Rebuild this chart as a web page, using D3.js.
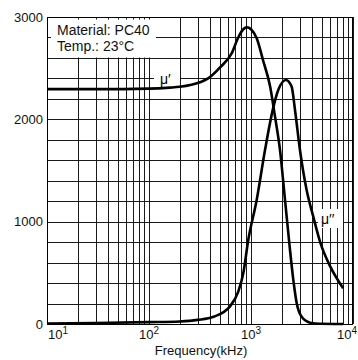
<!DOCTYPE html>
<html><head><meta charset="utf-8">
<script src="https://cdn.jsdelivr.net/npm/d3@7"></script>
<style>
html,body{margin:0;padding:0;background:#fff;}
svg{display:block;font-family:"Liberation Sans",Arial,sans-serif;}
</style></head>
<body><svg id="c" width="358" height="360"></svg>
<script>
// Data (frequency in kHz)
const muRealFreq = [10, 30, 100, 160, 200, 316, 380, 500, 650, 750, 840, 910, 1000, 1140, 1310, 1540, 1720, 1925, 2155, 2385, 2600, 2810, 3140, 3790, 4700, 8000];
const muRealVals = [2295, 2295, 2300, 2310, 2318, 2362, 2400, 2510, 2650, 2800, 2880, 2900, 2880, 2790, 2580, 2320, 2026, 1700, 1212, 770, 430, 200, 70, 13, 2, 0];
const muImagFreq = [10, 30, 100, 200, 300, 430, 620, 750, 840, 940, 1137, 1372, 1640, 1850, 2200, 2500, 2700, 3020, 3510, 4080, 4800, 5960, 8000];
const muImagVals = [5, 10, 18, 25, 40, 71, 170, 316, 495, 821, 1212, 1700, 2100, 2287, 2384, 2320, 2091, 1700, 1309, 1049, 790, 565, 349];
const yTicks = [0, 1000, 2000, 3000];
const yGrid = d3.range(0, 3001, 200);
const xDecades = [10, 100, 1000, 10000];
const xDecadeExp = ["1", "2", "3", "4"];
const infoLines = ["Material: PC40", "Temp.: 23°C"];
const seriesLabels = ["μ′", "μ′′"];

const svg = d3.select("#c");
const L = 47, R = 353, T = 17, B = 324;
const x = d3.scaleLog().domain([10, 10000]).range([L, R]);
const y = d3.scaleLinear().domain([0, 3000]).range([B, T]);
const px = v => Math.round(v) + 0.5;

// vertical gridlines
const xGrid = [];
[10, 100, 1000].forEach(d => { for (let k = 1; k <= 10; k++) xGrid.push(d * k); });
const g = svg.append("g");
g.selectAll("line.v").data(xGrid).enter().append("line")
  .attr("x1", d => px(x(d))).attr("x2", d => px(x(d)))
  .attr("y1", T).attr("y2", B)
  .attr("stroke", "#1a1a1a").attr("stroke-width", 1);
g.selectAll("line.h").data(yGrid).enter().append("line")
  .attr("x1", L).attr("x2", R)
  .attr("y1", d => px(y(d))).attr("y2", d => px(y(d)))
  .attr("stroke", "#1a1a1a").attr("stroke-width", 1);

// info box (white background)
svg.append("rect").attr("x", 51).attr("y", 19.5).attr("width", 105).attr("height", 38).attr("fill", "#fff");
svg.selectAll("text.info").data(infoLines).enter().append("text")
  .attr("x", 57).attr("y", (d, i) => 35 + i * 15.7)
  .attr("font-size", 14).attr("fill", "#111").text(d => d);

// curves
const line = d3.line().x(d => x(d[0])).y(d => y(d[1])).curve(d3.curveMonotoneX);
const realPts = muRealFreq.map((f, i) => [f, muRealVals[i]]);
const imagPts = muImagFreq.map((f, i) => [f, muImagVals[i]]);

// label backgrounds
svg.append("rect").attr("x", 154).attr("y", 70).attr("width", 26).attr("height", 17).attr("fill", "#fff");
svg.append("rect").attr("x", 318).attr("y", 209).attr("width", 25).attr("height", 19).attr("fill", "#fff");

[realPts, imagPts].forEach(pts => {
  svg.append("path").attr("d", line(pts)).attr("fill", "none")
    .attr("stroke", "#000").attr("stroke-width", 2.6).attr("stroke-linejoin", "round");
});

svg.append("text").attr("x", 160).attr("y", 84).attr("font-size", 14).text(seriesLabels[0]);
svg.append("text").attr("x", 321).attr("y", 224).attr("font-size", 14).text(seriesLabels[1]);

// frame
svg.append("rect").attr("x", L + 0.5).attr("y", T + 0.5).attr("width", R - L - 1).attr("height", B - T)
  .attr("fill", "none").attr("stroke", "#000").attr("stroke-width", 1);

// y tick labels
svg.selectAll("text.yt").data(yTicks).enter().append("text")
  .attr("x", 43).attr("y", d => y(d) + (d === 0 ? 5 : 4.5))
  .attr("text-anchor", "end").attr("font-size", 13).attr("fill", "#111").text(d => d);

// x tick labels
const xl = svg.selectAll("text.xt").data(xDecades).enter().append("text")
  .attr("x", (d, i) => i === 0 ? x(d) + 1 : (i === 3 ? 357 : x(d) - 10))
  .attr("text-anchor", (d, i) => i === 3 ? "end" : "start")
  .attr("y", 339).attr("font-size", 13).attr("fill", "#111");
xl.append("tspan").text("10");
xl.append("tspan").attr("dy", -5).attr("font-size", 10).text((d, i) => xDecadeExp[i]);

svg.append("text").attr("x", 201).attr("y", 355).attr("text-anchor", "middle")
  .attr("font-size", 13).attr("fill", "#111").text("Frequency(kHz)");
</script></body></html>
